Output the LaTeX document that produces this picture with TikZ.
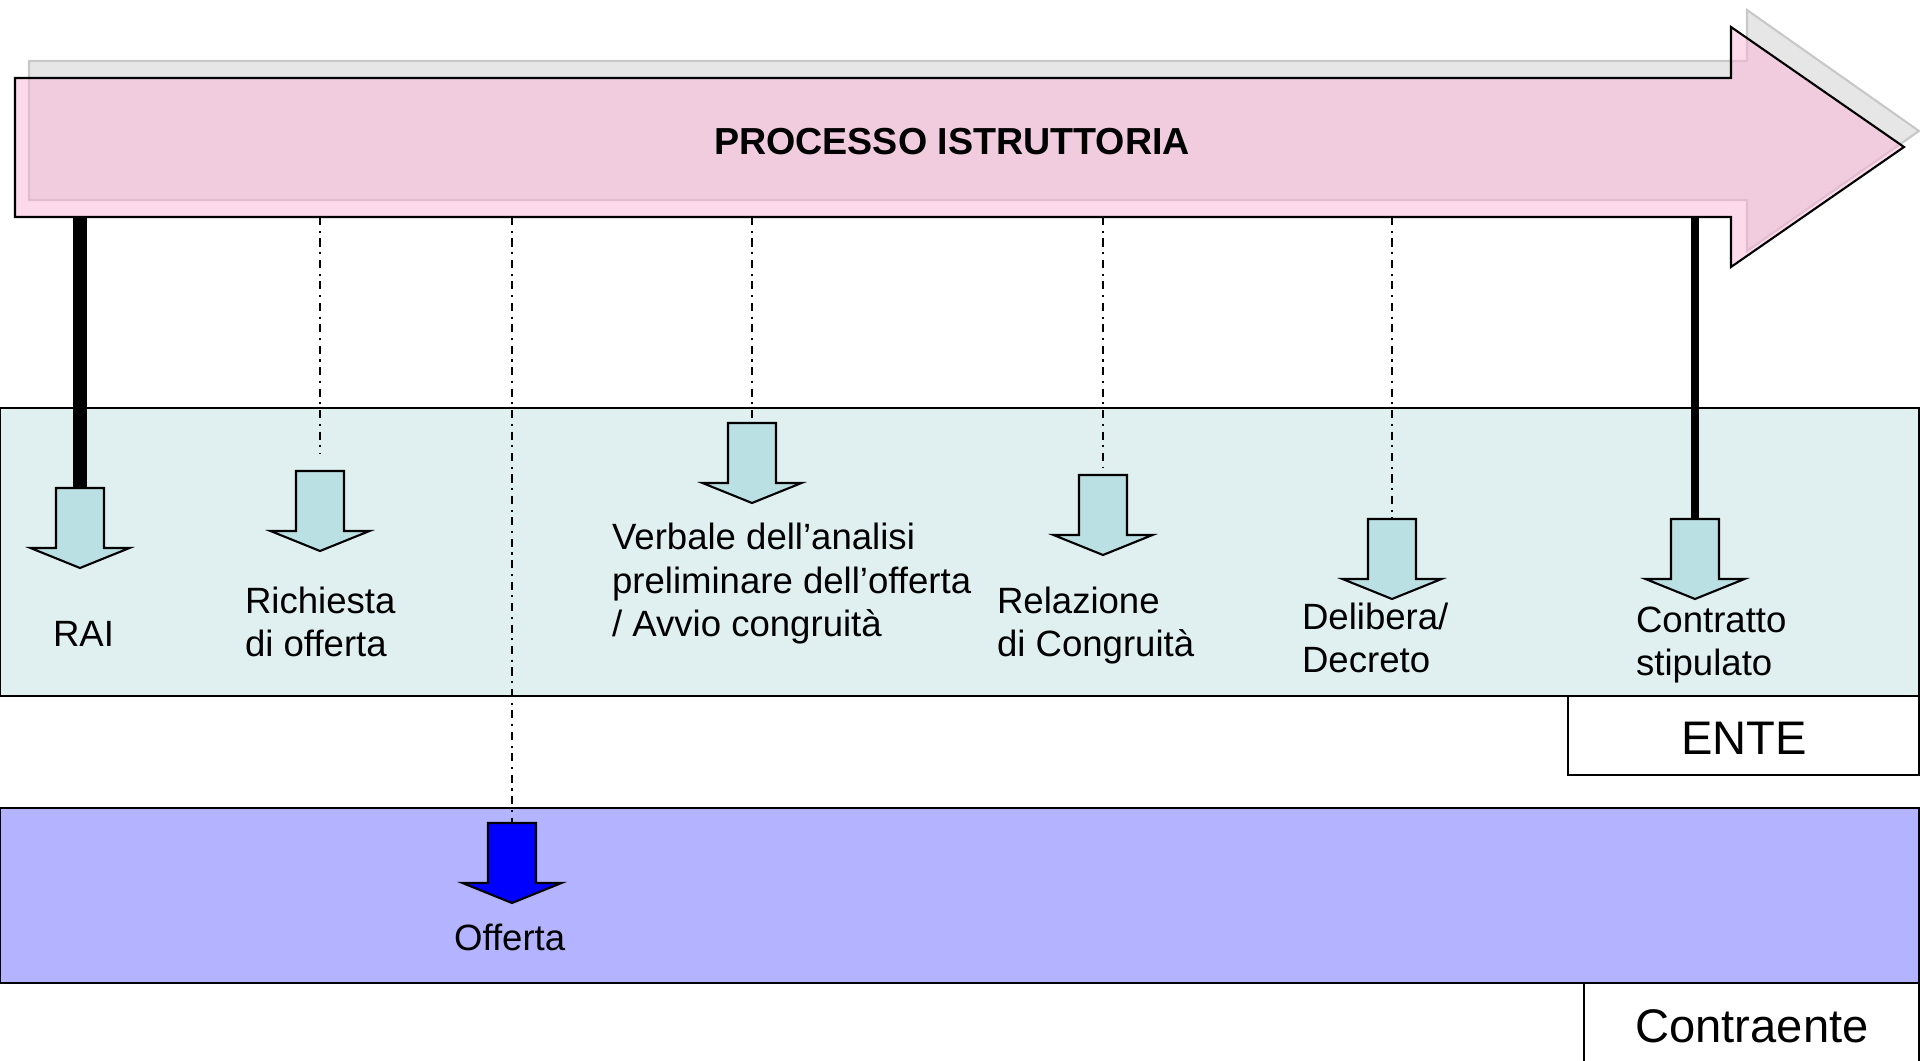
\documentclass[tikz,border=0pt]{standalone}
\usepackage{fontspec}
\setmainfont{Liberation Sans}

\definecolor{pinkarrow}{RGB}{250,180,215}
\definecolor{shadowgrey}{RGB}{230,230,230}
\definecolor{shadowline}{RGB}{200,200,200}
\definecolor{enteband}{RGB}{224,240,240}
\definecolor{entearrow}{RGB}{187,224,227}
\definecolor{contrband}{RGB}{179,179,255}

\begin{document}
\begin{tikzpicture}[x=0.01cm, y=-0.01cm, line width=0.6pt]
    \tikzstyle{band} = [draw, line width=0.6pt]
    \tikzstyle{evtext} = [inner sep=0pt, align=left, font=\fontsize{10.4}{12.5}\selectfont]
    \tikzstyle{roletext} = [inner sep=0pt, font=\fontsize{13.4}{16}\selectfont]
    \tikzstyle{milestone} = [line width=0.75pt, dash pattern=on 2.3pt off 1.6pt on 0.6pt off 1.6pt]
    \tikzset{darrow/.pic={
        \draw[pic actions] (-24,0) -- (24,0) -- (24,60) -- (49.5,60) -- (0,80)
            -- (-49.5,60) -- (-24,60) -- cycle;
        \coordinate (-top) at (0,0);
    }}

    \clip (0,0) rectangle (1920,1061);

    % bands
    \draw[band, fill=enteband] (0,408) rectangle (1919,696);
    \draw[band, fill=white] (1568,696) rectangle (1919,775);
    \draw[band, fill=contrband] (0,808) rectangle (1919,983);
    \draw[band, fill=white] (1584,983) rectangle (1919,1080);
    \node[roletext, anchor=base] (ente) at (1744,755) {ENTE};
    \node[roletext, anchor=base] (contraente) at (1752,1042) {Contraente};

    % process arrow
    \draw[shadowline, fill=shadowgrey] (29,61) -- (1747,61) -- (1747,10) -- (1919,131)
        -- (1747,251) -- (1747,200) -- (29,200) -- cycle;
    \draw[fill=pinkarrow, fill opacity=0.5] (15,78) -- (1731,78) -- (1731,27) -- (1904,147)
        -- (1731,267) -- (1731,217) -- (15,217) -- cycle;
    \node[inner sep=0pt, font=\fontsize{10.7}{13}\selectfont\bfseries] (proc) at (952,141.5) {PROCESSO ISTRUTTORIA};
    \coordinate (base) at (0,217);

    % steps
    \pic[fill=entearrow] (rai) at (80,488) {darrow};
    \pic[fill=entearrow] (rich) at (320,471) {darrow};
    \pic[fill=blue] (off) at (512,823) {darrow};
    \pic[fill=entearrow] (verb) at (752,423) {darrow};
    \pic[fill=entearrow] (rel) at (1103,475) {darrow};
    \pic[fill=entearrow] (del) at (1392,519) {darrow};
    \pic[fill=entearrow] (contr) at (1695,519) {darrow};

    \draw[line width=4pt] (rai-top |- base) -- (rai-top);
    \draw[milestone, shorten >=0.18cm] (rich-top |- base) -- (rich-top);
    \draw[milestone] (off-top |- base) -- (off-top);
    \draw[milestone] (verb-top |- base) -- (verb-top);
    \draw[milestone, shorten >=0.08cm] (rel-top |- base) -- (rel-top);
    \draw[milestone] (del-top |- base) -- (del-top);
    \draw[line width=2.4pt] (contr-top |- base) -- (contr-top);

    % last line on the baseline
    \node[evtext, anchor=base west] (rai-t) at (52,647) {RAI};
    \node[evtext, anchor=base west] (rich-t) at (244,657) {Richiesta\\di offerta};
    \node[evtext, anchor=base west] (off-t) at (453,951) {Offerta};
    \node[evtext, anchor=base west] (verb-t) at (611,637) {Verbale dell’analisi\\preliminare dell’offerta\\/ Avvio congruità};
    \node[evtext, anchor=base west] (rel-t) at (996,657) {Relazione\\di Congruità};
    \node[evtext, anchor=base west] (del-t) at (1301,673) {Delibera/\\Decreto};
    \node[evtext, anchor=base west] (contr-t) at (1635,676) {Contratto\\stipulato};
\end{tikzpicture}
\end{document}
